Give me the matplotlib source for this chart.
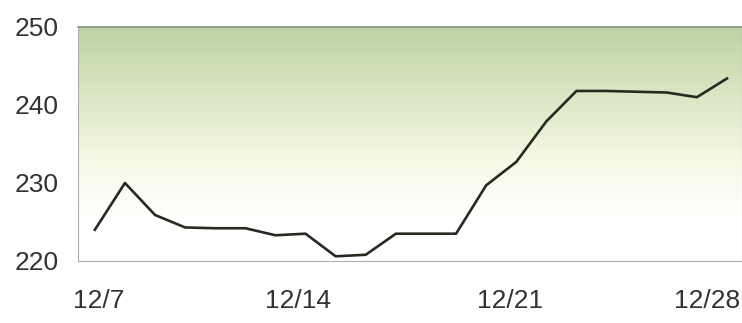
import numpy as np
import matplotlib
matplotlib.use('Agg')
import matplotlib.pyplot as plt
from matplotlib.colors import LinearSegmentedColormap
from matplotlib.transforms import ScaledTranslation

# daily values 12/7 .. 12/28
days = list(range(22))
values = [224.0, 230.0, 225.9, 224.3, 224.2, 224.2, 223.3, 223.5,
          220.6, 220.8, 223.5, 223.5, 223.5, 229.7, 232.7, 237.9,
          241.8, 241.8, 241.7, 241.6, 241.0, 243.4]
tick_days = [0, 7, 14, 21]
tick_labels = ['12/7', '12/14', '12/21', '12/28']
y_ticks = [220, 230, 240, 250]

plt.rcParams['font.family'] = ['Liberation Sans', 'DejaVu Sans']

fig = plt.figure(figsize=(7.42, 3.23), dpi=100)
ax = fig.add_axes([78/742, 1-261/323, 1-78/742, 234/323])

# green to white background gradient (top to bottom)
cmap = LinearSegmentedColormap.from_list('bg', [
    (0.0, '#ffffff'), (0.18, '#ffffff'), (0.42, '#f8f9e6'),
    (0.65, '#e0eacb'), (1.0, '#bcd4a4')])
grad = np.linspace(0, 1, 256).reshape(-1, 1)
xmin, xmax = -0.56, 21.5
ax.imshow(grad, aspect='auto', cmap=cmap, origin='lower',
          extent=[xmin, xmax, 220, 250], zorder=0)

ax.plot(days, values, color='#262b22', linewidth=1.9, zorder=2)

ax.set_xlim(xmin, xmax)
ax.set_ylim(220, 250)
ax.set_xticks(tick_days)
ax.set_xticklabels(tick_labels)
ax.set_yticks(y_ticks)
ax.tick_params(length=0, labelsize=19, labelcolor='#333333')
ax.tick_params(axis='x', pad=20)
ax.tick_params(axis='y', pad=14)

# nudge date labels a little left, as in the print
shifts = [4, -8, -6, -20]
for lab, dx in zip(ax.get_xticklabels(), shifts):
    lab.set_transform(lab.get_transform() + ScaledTranslation(dx/100, 0, fig.dpi_scale_trans))

for s in ax.spines.values():
    s.set_color('#b0b0a8')
    s.set_linewidth(0.8)
ax.spines['top'].set_color('#8a8f80')
ax.spines['top'].set_linewidth(1.2)

fig.savefig('out.png', dpi=100)
